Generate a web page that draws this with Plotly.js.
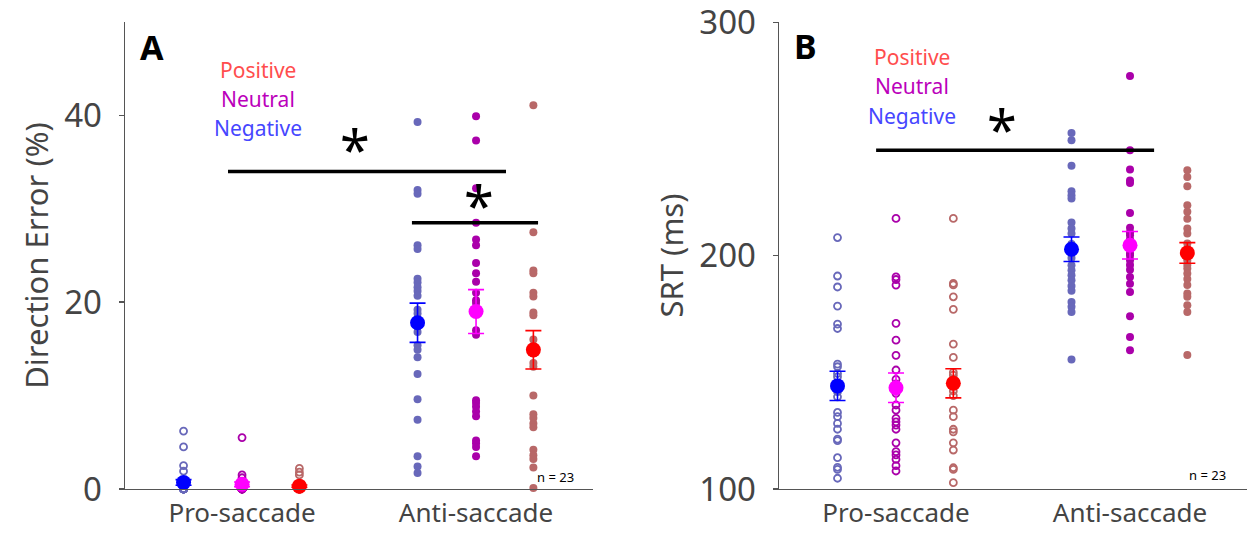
<!DOCTYPE html>
<html><head><meta charset="utf-8">
<script src="https://cdn.plot.ly/plotly-3.0.1.min.js"></script>
<style>html,body{margin:0;padding:0;background:#fff}#chart{width:1248px;height:533px}</style>
</head><body><div id="chart"></div>
<script>
// ---------- data ----------
const groups = ["Pro-saccade", "Anti-saccade"];
const conditions = ["Negative", "Neutral", "Positive"];
const condOffsets = [-0.25, 0, 0.245];

// Panel A: Direction Error (%)
const A_pro_neg = [6.2,4.5,2.5,1.9,0.9,0.5,0,0,0,0,0,0,0,0,0,0,0,0,0,0,0,0,0];
const A_pro_neu = [5.5,1.5,1.2,0.6,0,0,0,0,0,0,0,0,0,0,0,0,0,0,0,0,0,0,0];
const A_pro_pos = [2.2,1.8,1.5,0,0,0,0,0,0,0,0,0,0,0,0,0,0,0,0,0,0,0,0];
const A_anti_neg = [39.3,32.0,31.6,26.1,25.7,22.5,22.1,21.6,21.2,20.7,19.2,18.8,17.5,16.8,15.4,14.9,14.1,12.3,9.6,7.4,3.5,2.4,1.7];
const A_anti_neu = [39.9,37.3,32.2,28.5,26.7,26.1,24.2,23.1,22.2,21.0,20.2,19.9,17.0,16.5,9.5,9.2,8.8,8.3,7.8,5.2,4.9,4.5,3.5];
const A_anti_pos = [41.1,27.5,23.4,23.1,21.0,20.6,18.9,18.6,16.0,15.0,14.5,13.5,13.1,10.0,8.0,7.6,7.0,6.6,4.2,3.6,3.2,2.3,0.1];
const A_means = {pro:[0.7,0.5,0.3], anti:[17.8,19.0,14.9]};
const A_sem   = {pro:[0.3,0.25,0.12], anti:[2.1,2.35,2.05]};

// Panel B: SRT (ms)
const B_pro_neg = [207.8,191.3,186.6,178.4,170.7,168.8,153.5,152.4,149.5,148.1,145.0,141.7,139.5,132.8,131.0,128.1,125.6,121.4,120.7,113.4,109.3,108.4,104.6];
const B_pro_neu = [216.0,190.9,189.8,187.4,171.0,163.8,157.3,151.0,147.0,145.0,141.0,136.0,133.8,130.3,128.8,127.4,125.6,119.8,116.0,114.6,112.7,110.0,107.7];
const B_pro_pos = [216.0,188.1,187.5,182.4,177.0,162.1,156.4,150.0,148.8,147.0,146.0,144.0,142.0,140.0,133.8,131.0,125.6,124.5,119.8,116.7,109.1,108.4,102.7];
const B_anti_neg = [252.6,249.5,238.6,227.6,225.9,224.5,214.2,211.7,209.5,205.0,203.0,201.0,199.0,195.9,193.8,191.6,189.5,187.0,185.0,180.2,178.1,175.9,155.5];
const B_anti_neu = [277.0,245.2,237.0,232.3,231.2,218.3,212.0,210.0,208.8,207.0,206.0,203.0,201.0,200.0,198.1,196.0,194.0,190.9,188.0,184.5,174.1,165.2,159.5];
const B_anti_pos = [236.6,233.7,229.8,221.6,218.8,215.9,211.7,209.5,205.2,203.0,201.0,199.0,198.0,196.0,194.5,192.4,190.0,187.4,183.8,182.4,178.8,175.9,157.4];
const B_means = {pro:[144.2,143.4,145.3], anti:[202.8,204.5,201.2]};
const B_sem   = {pro:[6.3,6.35,6.25], anti:[5.25,5.9,4.4]};

// significance bars: [x start, x end, y], star [x, y]
const sigA_x0 = [-0.06, 0.726];
const sigA_x1 = [1.128, 1.265];
const sigA_y  = [34.0, 28.5];
const starA_x = [0.483, 1.013];
const starA_y = [36.4, 30.4];
const sigB_x0 = [-0.085];
const sigB_x1 = [1.103];
const sigB_y  = [245.2];
const starB_x = [0.453];
const starB_y = [254.5];
const nLabel = "n = 23";

// ---------- style ----------
const dotColors  = ["rgb(104,104,186)", "rgb(170,0,170)", "rgb(184,104,104)"];
const meanColors = ["#0000ff", "#ff00ff", "#ff0000"];
const labelColors = {Positive:"#ff4d4d", Neutral:"#bb00bb", Negative:"#4646ff"};
const FONT = "Noto Sans, Open Sans, sans-serif";
const AX = "#555";

const traces = [];
function addPanel(xa, ya, pro, anti, means, sem) {
  const gdata = [pro, anti];
  gdata.forEach((set, gi) => {
    set.forEach((vals, ci) => {
      traces.push({
        type:"scatter", mode:"markers", xaxis:xa, yaxis:ya,
        x: vals.map(() => gi + condOffsets[ci]), y: vals,
        marker: gi === 0
          ? {symbol:"circle-open", size:7, color:dotColors[ci], line:{width:1.8, color:dotColors[ci]}}
          : {symbol:"circle", size:8, color:dotColors[ci]},
        cliponaxis:false, showlegend:false, hoverinfo:"skip"
      });
    });
  });
  ["pro","anti"].forEach((g, gi) => {
    conditions.forEach((c, ci) => {
      traces.push({
        type:"scatter", mode:"markers", xaxis:xa, yaxis:ya,
        x:[gi + condOffsets[ci]], y:[means[g][ci]],
        error_y:{type:"data", array:[sem[g][ci]], color:meanColors[ci], thickness:1.6, width:8},
        marker:{symbol:"circle", size:15, color:meanColors[ci]},
        cliponaxis:false, showlegend:false, hoverinfo:"skip"
      });
    });
  });
}
addPanel("x","y",[A_pro_neg,A_pro_neu,A_pro_pos],[A_anti_neg,A_anti_neu,A_anti_pos],A_means,A_sem);
addPanel("x2","y2",[B_pro_neg,B_pro_neu,B_pro_pos],[B_anti_neg,B_anti_neu,B_anti_pos],B_means,B_sem);

function addSig(xa, ya, x0, x1, y) {
  x0.forEach((v, i) => {
    traces.push({type:"scatter", mode:"lines", xaxis:xa, yaxis:ya,
      x:[v, x1[i]], y:[y[i], y[i]], line:{color:"#000", width:3.5},
      showlegend:false, hoverinfo:"skip", cliponaxis:false});
  });
}
addSig("x","y",sigA_x0,sigA_x1,sigA_y);
addSig("x2","y2",sigB_x0,sigB_x1,sigB_y);

const annotations = [];
function star(xr, yr, x, y) {
  x.forEach((v,i) => annotations.push({xref:xr, yref:yr, x:v, y:y[i], text:"*", showarrow:false,
    font:{family:FONT, size:54, color:"#000"}, xanchor:"center", yanchor:"middle"}));
}
star("x","y",starA_x,starA_y);
star("x2","y2",starB_x,starB_y);

function condLabels(xr, yr, x, ys) {
  ["Positive","Neutral","Negative"].forEach((t,i) => annotations.push({xref:xr, yref:yr, x:x, y:ys[i], text:t,
    showarrow:false, font:{family:FONT, size:21, color:labelColors[t]}, xanchor:"center", yanchor:"middle"}));
}
condLabels("x","y",0.068,[44.9,41.8,38.7]);
condLabels("x2","y2",0.068,[285.0,272.6,259.7]);

annotations.push({xref:"x", yref:"y", x:-0.385, y:47.3, text:"<b>A</b>", showarrow:false,
  font:{family:FONT, size:34, color:"#000"}, xanchor:"center", yanchor:"middle"});
annotations.push({xref:"x2", yref:"y2", x:-0.385, y:290, text:"<b>B</b>", showarrow:false,
  font:{family:FONT, size:34, color:"#000"}, xanchor:"center", yanchor:"middle"});
annotations.push({xref:"x", yref:"y", x:1.34, y:1.3, text:nLabel, showarrow:false,
  font:{family:FONT, size:13, color:"#000"}, xanchor:"center", yanchor:"middle"});
annotations.push({xref:"x2", yref:"y2", x:1.33, y:106, text:nLabel, showarrow:false,
  font:{family:FONT, size:13, color:"#000"}, xanchor:"center", yanchor:"middle"});

const xBase = {
  range:[-0.5, 1.5], tickmode:"array", tickvals:[0,1], ticktext:groups,
  showline:true, linecolor:AX, linewidth:1.5, ticks:"", showgrid:false, zeroline:false,
  tickfont:{family:FONT, size:26, color:"#444"}, ticklabelstandoff:0, fixedrange:true
};
const yBase = {
  showline:true, linecolor:AX, linewidth:1.5, ticks:"outside", ticklen:5, tickcolor:AX, tickwidth:1.5,
  showgrid:false, zeroline:false, tickfont:{family:FONT, size:33, color:"#444"}, ticklabelstandoff:10,
  domain:[0.0826, 0.9587]
};

const layout = {
  width:1248, height:533, margin:{l:0,r:0,t:0,b:0},
  paper_bgcolor:"#fff", plot_bgcolor:"#fff", showlegend:false,
  font:{family:FONT},
  xaxis: Object.assign({}, xBase, {domain:[0.1002, 0.4752], anchor:"y"}),
  yaxis: Object.assign({}, yBase, {range:[0,50], tickvals:[0,20,40], anchor:"x",
    title:{text:"Direction Error (%)", font:{family:FONT, size:31, color:"#444"}, standoff:6}}),
  xaxis2: Object.assign({}, xBase, {domain:[0.6242, 0.9992], anchor:"y2"}),
  yaxis2: Object.assign({}, yBase, {range:[100,300.2], tickvals:[100,200,300], anchor:"x2",
    ticklabeloverflow:"allow",
    title:{text:"SRT (ms)", font:{family:FONT, size:31, color:"#444"}, standoff:6}}),
  annotations: annotations
};

Plotly.newPlot("chart", traces, layout, {staticPlot:true, displayModeBar:false});
</script></body></html>
